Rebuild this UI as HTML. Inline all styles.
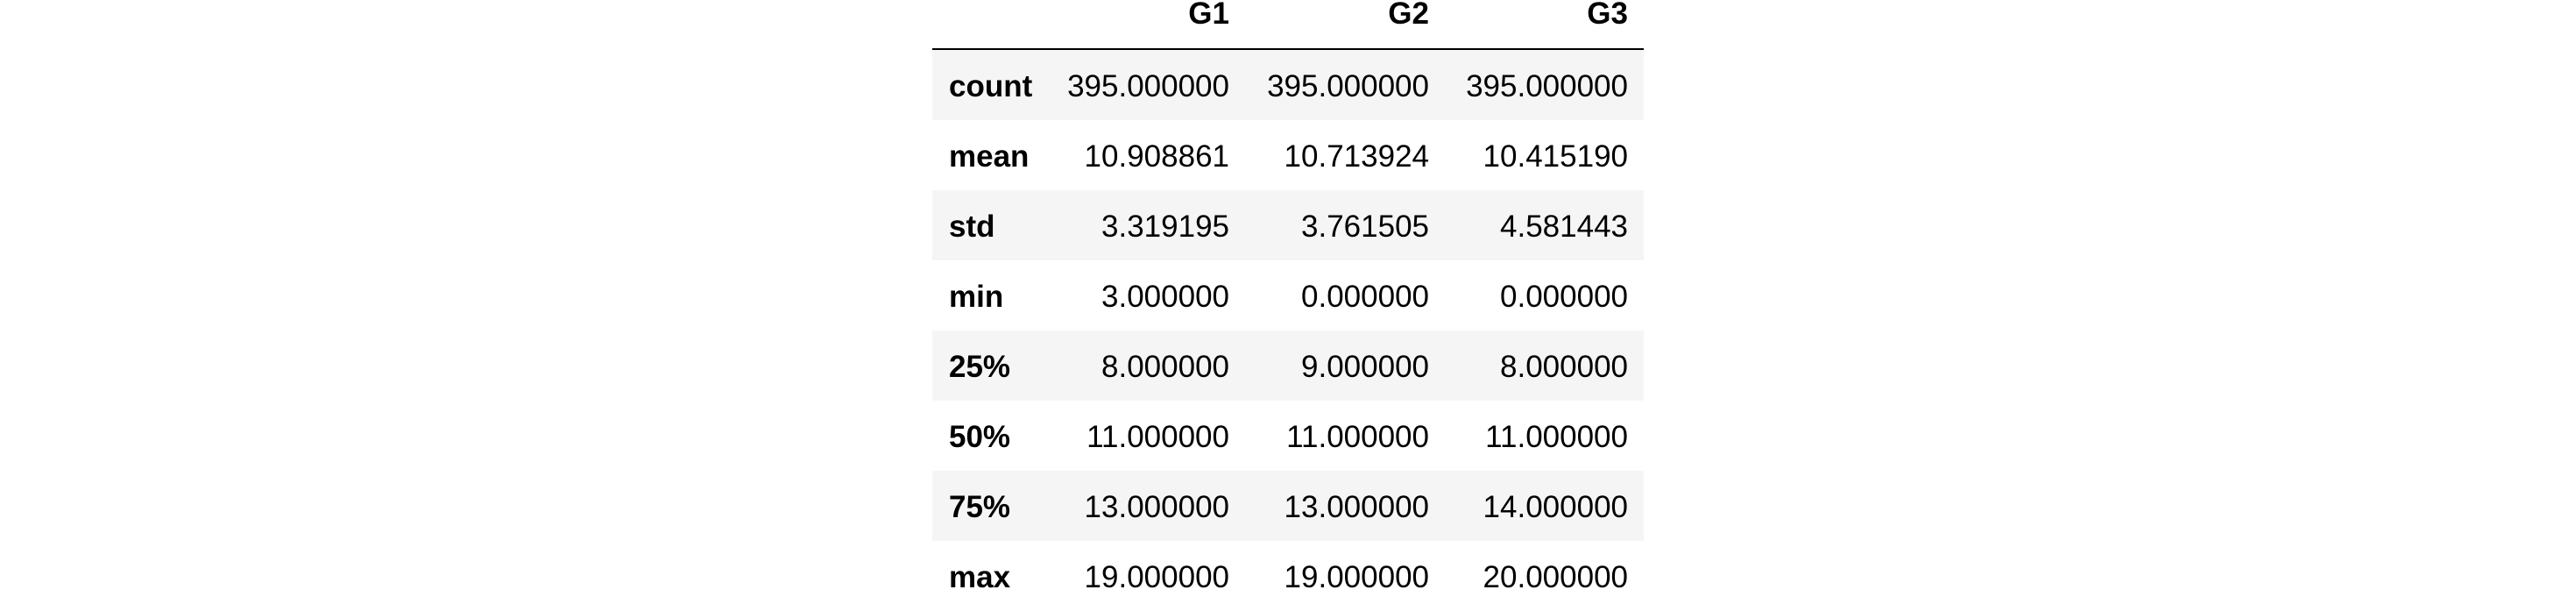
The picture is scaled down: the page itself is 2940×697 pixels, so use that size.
<!DOCTYPE html>
<html><head><meta charset="utf-8"><style>
html,body{margin:0;padding:0;background:#fff;}
body{width:2940px;height:672px;position:relative;overflow:hidden;font-family:"Liberation Sans",Arial,sans-serif;color:#000;}
.t{position:absolute;font-size:35px;line-height:35px;white-space:nowrap;}
.b{font-weight:bold;}
.r{text-align:right;}
.row{position:absolute;left:1064px;width:812px;height:80px;}
</style></head><body>
<div id="tbl"></div>
<script>
const cols=['G1','G2','G3'];
const rowLabels=['count','mean','std','min','25%','50%','75%','max'];
const g1=['395.000000','10.908861','3.319195','3.000000','8.000000','11.000000','13.000000','19.000000'];
const g2=['395.000000','10.713924','3.761505','0.000000','9.000000','11.000000','13.000000','19.000000'];
const g3=['395.000000','10.415190','4.581443','0.000000','8.000000','11.000000','14.000000','20.000000'];
const series=[g1,g2,g3];
const rights=[1403,1631,1858];
const tbl=document.getElementById('tbl');
function mk(cls,txt){const d=document.createElement('div');d.className=cls;d.textContent=txt;tbl.appendChild(d);return d;}
cols.forEach((c,i)=>{
  const d=mk('t b r',c);
  
  
  d.style.right=(2940-rights[i])+'px';d.style.top='-2px';
});
const rule=document.createElement('div');


rule.style.cssText='position:absolute;left:1064px;width:812px;top:55px;height:2px;background:#000;';
tbl.appendChild(rule);
rowLabels.forEach((lab,r)=>{
  const top=57+80*r;
  const row=document.createElement('div');
  row.className='row';
  
  
  row.style.top=top+'px';
  row.style.background=(r%2===0)?'#f5f5f5':'#fff';
  tbl.appendChild(row);
  const l=mk('t b',lab);
  
  
  l.style.left='1083px';l.style.top=(top+24)+'px';
  series.forEach((s,i)=>{
    const d=mk('t r',s[r]);
    
    
    d.style.right=(2940-rights[i])+'px';d.style.top=(top+24)+'px';
  });
});
</script>
</body></html>
